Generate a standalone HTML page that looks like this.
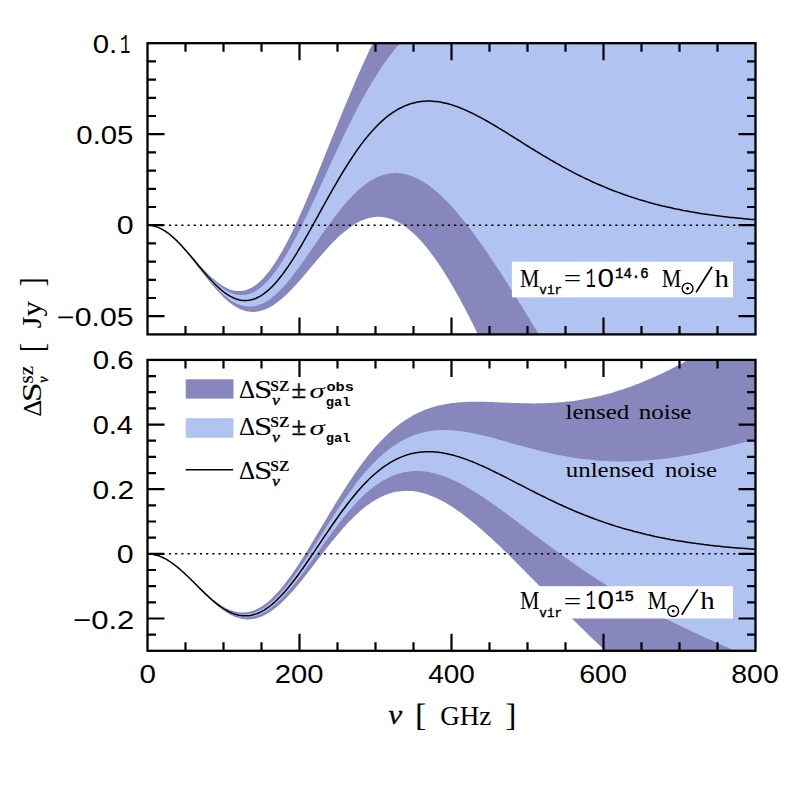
<!DOCTYPE html>
<html><head><meta charset="utf-8"><title>SZ flux</title>
<style>html,body{margin:0;padding:0;background:#fff}svg{display:block}text{fill:#000}</style></head>
<body>
<svg width="797" height="797" viewBox="0 0 797 797">
<defs>
<clipPath id="ct"><rect x="147.5" y="43.2" width="608.0" height="291.2"/></clipPath>
<clipPath id="cb"><rect x="147.5" y="359.9" width="608.0" height="290.9"/></clipPath>
</defs>
<rect width="797" height="797" fill="#fff"/>
<g clip-path="url(#ct)">
<path d="M147.9,225.2 L149.8,225.3 L151.7,225.5 L153.6,225.9 L155.5,226.4 L157.4,227.1 L159.3,227.8 L161.2,228.7 L163.1,229.7 L165.0,230.9 L166.9,232.1 L168.8,233.5 L170.7,235.0 L172.6,236.5 L174.5,238.2 L176.4,239.9 L178.3,241.7 L180.2,243.6 L182.1,245.6 L184.0,247.5 L185.9,249.6 L187.8,251.7 L189.7,253.8 L191.6,255.9 L193.5,258.0 L195.4,260.1 L197.2,262.3 L199.1,264.4 L201.0,266.5 L202.9,268.5 L204.8,270.5 L206.7,272.5 L208.6,274.4 L210.5,276.2 L212.4,278.0 L214.3,279.6 L216.2,281.2 L218.1,282.7 L220.0,284.1 L221.9,285.4 L223.8,286.6 L225.7,287.6 L227.6,288.5 L229.5,289.3 L231.4,289.9 L233.3,290.5 L235.2,290.8 L237.1,291.0 L239.0,291.1 L240.9,291.0 L242.8,290.8 L244.7,290.4 L246.6,289.8 L248.5,289.1 L250.4,288.2 L252.3,287.2 L254.2,286.0 L256.1,284.7 L258.0,283.2 L259.9,281.5 L261.8,279.7 L263.7,277.7 L265.6,275.6 L267.5,273.3 L269.4,270.9 L271.3,268.3 L273.2,265.6 L275.1,262.8 L277.0,259.8 L278.9,256.7 L280.8,253.5 L282.7,250.2 L284.6,246.7 L286.5,243.2 L288.4,239.5 L290.3,235.7 L292.2,231.9 L294.1,227.9 L296.0,223.9 L297.9,219.7 L299.8,215.6 L301.7,211.3 L303.6,207.0 L305.5,202.6 L307.4,198.1 L309.3,193.6 L311.2,189.1 L313.1,184.5 L315.0,179.9 L316.9,175.3 L318.8,170.6 L320.7,165.9 L322.6,161.2 L324.5,156.5 L326.4,151.8 L328.3,147.1 L330.2,142.3 L332.1,137.6 L334.0,132.9 L335.9,128.2 L337.8,123.5 L339.7,118.9 L341.6,114.2 L343.5,109.6 L345.4,105.0 L347.3,100.5 L349.2,96.0 L351.1,91.5 L353.0,87.0 L354.9,82.6 L356.7,78.3 L358.6,74.0 L360.5,69.7 L362.4,65.5 L364.3,61.3 L366.2,57.2 L368.1,53.1 L370.0,49.1 L371.9,45.2 L373.8,41.3 L375.7,37.4 L377.6,33.6 L379.5,29.9 L381.4,26.2 L383.3,22.6 L385.2,19.1 L387.1,15.6 L389.0,12.1 L390.9,8.7 L392.8,5.4 L394.7,2.1 L396.6,-1.1 L398.5,-4.3 L400.4,-7.4 L402.3,-10.5 L404.2,-13.5 L406.1,-16.4 L408.0,-19.3 L409.9,-22.2 L411.8,-25.0 L413.7,-27.8 L415.6,-30.5 L417.5,-33.1 L419.4,-35.8 L421.3,-38.3 L423.2,-40.9 L425.1,-43.4 L427.0,-45.8 L428.9,-48.3 L430.8,-50.7 L432.7,-53.0 L434.6,-55.3 L436.5,-57.6 L438.4,-59.9 L440.3,-62.1 L442.2,-64.3 L444.1,-66.4 L446.0,-68.6 L447.9,-70.7 L449.8,-72.8 L451.7,-74.9 L453.6,-77.0 L455.5,-79.0 L457.4,-81.0 L459.3,-83.0 L461.2,-85.0 L463.1,-87.0 L465.0,-89.0 L466.9,-91.0 L468.8,-92.9 L470.7,-94.9 L472.6,-96.8 L474.5,-98.8 L476.4,-100.7 L478.3,-102.6 L480.2,-104.6 L482.1,-106.5 L484.0,-108.4 L485.9,-110.4 L487.8,-112.3 L489.7,-114.3 L491.6,-116.2 L493.5,-118.2 L495.4,-120.2 L497.3,-122.1 L499.2,-124.1 L501.1,-126.1 L503.0,-128.2 L504.9,-130.2 L506.8,-132.2 L508.7,-134.3 L510.6,-136.3 L512.5,-138.4 L514.4,-140.5 L516.2,-142.6 L518.1,-144.8 L520.0,-146.9 L521.9,-149.1 L523.8,-151.3 L525.7,-153.5 L527.6,-155.8 L529.5,-158.0 L531.4,-160.3 L533.3,-162.6 L535.2,-164.9 L537.1,-167.3 L539.0,-169.6 L540.9,-172.0 L542.8,-174.5 L544.7,-176.9 L546.6,-179.4 L548.5,-181.9 L550.4,-184.4 L552.3,-187.0 L554.2,-189.5 L556.1,-192.1 L558.0,-194.8 L559.9,-197.4 L561.8,-200.1 L563.7,-202.8 L565.6,-205.6 L567.5,-208.3 L569.4,-211.1 L571.3,-214.0 L573.2,-216.8 L575.1,-219.7 L577.0,-222.6 L578.9,-225.6 L580.8,-228.5 L582.7,-231.5 L584.6,-234.5 L586.5,-237.6 L588.4,-240.7 L590.3,-243.8 L592.2,-246.9 L594.1,-250.1 L596.0,-253.3 L597.9,-256.5 L599.8,-259.8 L601.7,-263.1 L603.6,-266.4 L605.5,-269.7 L607.4,-273.1 L609.3,-276.5 L611.2,-279.9 L613.1,-283.4 L615.0,-286.9 L616.9,-290.4 L618.8,-293.9 L620.7,-297.5 L622.6,-301.1 L624.5,-304.7 L626.4,-308.3 L628.3,-312.0 L630.2,-315.7 L632.1,-319.4 L634.0,-323.2 L635.9,-327.0 L637.8,-330.8 L639.7,-334.6 L641.6,-338.5 L643.5,-342.3 L645.4,-346.2 L647.3,-350.2 L649.2,-354.1 L651.1,-358.1 L653.0,-362.1 L654.9,-366.2 L656.8,-370.2 L658.7,-374.3 L660.6,-378.4 L662.5,-382.6 L664.4,-386.7 L666.3,-390.9 L668.2,-395.1 L670.1,-399.3 L672.0,-403.6 L673.9,-407.8 L675.7,-412.1 L677.6,-416.5 L679.5,-420.8 L681.4,-425.2 L683.3,-429.5 L685.2,-433.9 L687.1,-438.4 L689.0,-442.8 L690.9,-447.3 L692.8,-451.8 L694.7,-456.3 L696.6,-460.8 L698.5,-465.4 L700.4,-470.0 L702.3,-474.5 L704.2,-479.2 L706.1,-483.8 L708.0,-488.4 L709.9,-493.1 L711.8,-497.8 L713.7,-502.5 L715.6,-507.3 L717.5,-512.0 L719.4,-516.8 L721.3,-521.6 L723.2,-526.4 L725.1,-531.2 L727.0,-536.0 L728.9,-540.9 L730.8,-545.8 L732.7,-550.7 L734.6,-555.6 L736.5,-560.5 L738.4,-565.4 L740.3,-570.4 L742.2,-575.4 L744.1,-580.4 L746.0,-585.4 L747.9,-590.4 L749.8,-595.5 L751.7,-600.5 L753.6,-605.6 L755.5,-610.7 L755.5,1050.0 L753.6,1044.6 L751.7,1039.2 L749.8,1033.9 L747.9,1028.5 L746.0,1023.1 L744.1,1017.8 L742.2,1012.4 L740.3,1007.1 L738.4,1001.7 L736.5,996.4 L734.6,991.1 L732.7,985.8 L730.8,980.5 L728.9,975.2 L727.0,969.9 L725.1,964.6 L723.2,959.4 L721.3,954.1 L719.4,948.8 L717.5,943.6 L715.6,938.3 L713.7,933.1 L711.8,927.9 L709.9,922.7 L708.0,917.4 L706.1,912.2 L704.2,907.0 L702.3,901.8 L700.4,896.7 L698.5,891.5 L696.6,886.3 L694.7,881.1 L692.8,876.0 L690.9,870.8 L689.0,865.7 L687.1,860.5 L685.2,855.4 L683.3,850.3 L681.4,845.2 L679.5,840.1 L677.6,834.9 L675.7,829.8 L673.9,824.7 L672.0,819.7 L670.1,814.6 L668.2,809.5 L666.3,804.4 L664.4,799.3 L662.5,794.3 L660.6,789.2 L658.7,784.2 L656.8,779.1 L654.9,774.1 L653.0,769.0 L651.1,764.0 L649.2,759.0 L647.3,754.0 L645.4,748.9 L643.5,743.9 L641.6,738.9 L639.7,733.9 L637.8,728.9 L635.9,723.9 L634.0,718.9 L632.1,713.9 L630.2,709.0 L628.3,704.0 L626.4,699.0 L624.5,694.0 L622.6,689.1 L620.7,684.1 L618.8,679.2 L616.9,674.2 L615.0,669.3 L613.1,664.3 L611.2,659.4 L609.3,654.5 L607.4,649.5 L605.5,644.6 L603.6,639.7 L601.7,634.8 L599.8,629.8 L597.9,624.9 L596.0,620.0 L594.1,615.1 L592.2,610.2 L590.3,605.3 L588.4,600.5 L586.5,595.6 L584.6,590.7 L582.7,585.8 L580.8,581.0 L578.9,576.1 L577.0,571.3 L575.1,566.4 L573.2,561.6 L571.3,556.7 L569.4,551.9 L567.5,547.1 L565.6,542.2 L563.7,537.4 L561.8,532.6 L559.9,527.8 L558.0,523.0 L556.1,518.2 L554.2,513.5 L552.3,508.7 L550.4,503.9 L548.5,499.2 L546.6,494.5 L544.7,489.7 L542.8,485.0 L540.9,480.3 L539.0,475.6 L537.1,470.9 L535.2,466.3 L533.3,461.6 L531.4,457.0 L529.5,452.3 L527.6,447.7 L525.7,443.1 L523.8,438.5 L521.9,433.9 L520.0,429.4 L518.1,424.9 L516.2,420.3 L514.4,415.8 L512.5,411.4 L510.6,406.9 L508.7,402.5 L506.8,398.1 L504.9,393.7 L503.0,389.3 L501.1,385.0 L499.2,380.7 L497.3,376.4 L495.4,372.1 L493.5,367.9 L491.6,363.7 L489.7,359.5 L487.8,355.4 L485.9,351.3 L484.0,347.2 L482.1,343.2 L480.2,339.2 L478.3,335.3 L476.4,331.3 L474.5,327.5 L472.6,323.6 L470.7,319.9 L468.8,316.1 L466.9,312.4 L465.0,308.8 L463.1,305.2 L461.2,301.6 L459.3,298.1 L457.4,294.7 L455.5,291.3 L453.6,288.0 L451.7,284.7 L449.8,281.5 L447.9,278.3 L446.0,275.2 L444.1,272.2 L442.2,269.2 L440.3,266.3 L438.4,263.5 L436.5,260.7 L434.6,258.0 L432.7,255.4 L430.8,252.9 L428.9,250.4 L427.0,248.0 L425.1,245.7 L423.2,243.5 L421.3,241.3 L419.4,239.3 L417.5,237.3 L415.6,235.4 L413.7,233.6 L411.8,231.9 L409.9,230.2 L408.0,228.7 L406.1,227.2 L404.2,225.8 L402.3,224.6 L400.4,223.4 L398.5,222.3 L396.6,221.3 L394.7,220.4 L392.8,219.6 L390.9,219.0 L389.0,218.4 L387.1,217.9 L385.2,217.4 L383.3,217.1 L381.4,216.9 L379.5,216.8 L377.6,216.8 L375.7,216.9 L373.8,217.1 L371.9,217.4 L370.0,217.7 L368.1,218.2 L366.2,218.8 L364.3,219.5 L362.4,220.2 L360.5,221.1 L358.6,222.0 L356.7,223.0 L354.9,224.1 L353.0,225.3 L351.1,226.6 L349.2,227.9 L347.3,229.4 L345.4,230.9 L343.5,232.5 L341.6,234.1 L339.7,235.8 L337.8,237.6 L335.9,239.4 L334.0,241.3 L332.1,243.3 L330.2,245.3 L328.3,247.3 L326.4,249.4 L324.5,251.5 L322.6,253.7 L320.7,255.9 L318.8,258.1 L316.9,260.3 L315.0,262.5 L313.1,264.8 L311.2,267.0 L309.3,269.3 L307.4,271.6 L305.5,273.8 L303.6,276.0 L301.7,278.2 L299.8,280.4 L297.9,282.5 L296.0,284.7 L294.1,286.7 L292.2,288.7 L290.3,290.7 L288.4,292.6 L286.5,294.5 L284.6,296.2 L282.7,297.9 L280.8,299.6 L278.9,301.1 L277.0,302.6 L275.1,303.9 L273.2,305.2 L271.3,306.4 L269.4,307.5 L267.5,308.4 L265.6,309.3 L263.7,310.0 L261.8,310.6 L259.9,311.1 L258.0,311.5 L256.1,311.8 L254.2,311.9 L252.3,311.9 L250.4,311.8 L248.5,311.6 L246.6,311.2 L244.7,310.7 L242.8,310.1 L240.9,309.4 L239.0,308.5 L237.1,307.5 L235.2,306.4 L233.3,305.2 L231.4,303.8 L229.5,302.4 L227.6,300.8 L225.7,299.2 L223.8,297.4 L221.9,295.6 L220.0,293.6 L218.1,291.6 L216.2,289.5 L214.3,287.3 L212.4,285.1 L210.5,282.8 L208.6,280.5 L206.7,278.1 L204.8,275.7 L202.9,273.3 L201.0,270.8 L199.1,268.4 L197.2,265.9 L195.4,263.4 L193.5,261.0 L191.6,258.5 L189.7,256.1 L187.8,253.8 L185.9,251.5 L184.0,249.2 L182.1,247.0 L180.2,244.9 L178.3,242.8 L176.4,240.9 L174.5,239.0 L172.6,237.2 L170.7,235.5 L168.8,234.0 L166.9,232.5 L165.0,231.2 L163.1,230.0 L161.2,228.9 L159.3,228.0 L157.4,227.1 L155.5,226.5 L153.6,225.9 L151.7,225.6 L149.8,225.3 L147.9,225.2Z" fill="#8887bd"/>
<path d="M147.9,225.0 L149.8,225.3 L151.7,225.5 L153.6,225.9 L155.5,226.4 L157.4,227.1 L159.3,227.8 L161.2,228.8 L163.1,229.8 L165.0,230.9 L166.9,232.2 L168.8,233.6 L170.7,235.1 L172.6,236.7 L174.5,238.4 L176.4,240.1 L178.3,242.0 L180.2,243.9 L182.1,245.9 L184.0,247.9 L185.9,250.0 L187.8,252.1 L189.7,254.3 L191.6,256.5 L193.5,258.7 L195.4,260.9 L197.2,263.1 L199.1,265.3 L201.0,267.4 L202.9,269.6 L204.8,271.7 L206.7,273.7 L208.6,275.7 L210.5,277.7 L212.4,279.6 L214.3,281.4 L216.2,283.1 L218.1,284.7 L220.0,286.2 L221.9,287.7 L223.8,289.0 L225.7,290.2 L227.6,291.3 L229.5,292.2 L231.4,293.0 L233.3,293.7 L235.2,294.3 L237.1,294.7 L239.0,295.0 L240.9,295.1 L242.8,295.1 L244.7,294.9 L246.6,294.6 L248.5,294.1 L250.4,293.5 L252.3,292.7 L254.2,291.7 L256.1,290.7 L258.0,289.4 L259.9,288.0 L261.8,286.5 L263.7,284.8 L265.6,283.0 L267.5,281.0 L269.4,278.9 L271.3,276.7 L273.2,274.3 L275.1,271.8 L277.0,269.2 L278.9,266.5 L280.8,263.6 L282.7,260.6 L284.6,257.6 L286.5,254.4 L288.4,251.1 L290.3,247.8 L292.2,244.3 L294.1,240.8 L296.0,237.2 L297.9,233.5 L299.8,229.7 L301.7,225.9 L303.6,222.1 L305.5,218.1 L307.4,214.2 L309.3,210.2 L311.2,206.1 L313.1,202.0 L315.0,197.9 L316.9,193.8 L318.8,189.7 L320.7,185.5 L322.6,181.4 L324.5,177.2 L326.4,173.1 L328.3,168.9 L330.2,164.8 L332.1,160.6 L334.0,156.5 L335.9,152.4 L337.8,148.4 L339.7,144.3 L341.6,140.3 L343.5,136.3 L345.4,132.4 L347.3,128.5 L349.2,124.7 L351.1,120.9 L353.0,117.1 L354.9,113.4 L356.7,109.7 L358.6,106.1 L360.5,102.6 L362.4,99.1 L364.3,95.7 L366.2,92.3 L368.1,89.0 L370.0,85.7 L371.9,82.6 L373.8,79.4 L375.7,76.4 L377.6,73.4 L379.5,70.5 L381.4,67.6 L383.3,64.8 L385.2,62.1 L387.1,59.5 L389.0,56.9 L390.9,54.3 L392.8,51.9 L394.7,49.5 L396.6,47.1 L398.5,44.9 L400.4,42.7 L402.3,40.5 L404.2,38.4 L406.1,36.4 L408.0,34.5 L409.9,32.6 L411.8,30.7 L413.7,28.9 L415.6,27.2 L417.5,25.5 L419.4,23.9 L421.3,22.3 L423.2,20.8 L425.1,19.4 L427.0,17.9 L428.9,16.6 L430.8,15.2 L432.7,13.9 L434.6,12.7 L436.5,11.5 L438.4,10.3 L440.3,9.2 L442.2,8.1 L444.1,7.1 L446.0,6.1 L447.9,5.1 L449.8,4.1 L451.7,3.2 L453.6,2.3 L455.5,1.5 L457.4,0.6 L459.3,-0.2 L461.2,-1.0 L463.1,-1.8 L465.0,-2.5 L466.9,-3.3 L468.8,-4.0 L470.7,-4.7 L472.6,-5.4 L474.5,-6.1 L476.4,-6.7 L478.3,-7.4 L480.2,-8.0 L482.1,-8.6 L484.0,-9.3 L485.9,-9.9 L487.8,-10.5 L489.7,-11.1 L491.6,-11.7 L493.5,-12.3 L495.4,-12.9 L497.3,-13.5 L499.2,-14.1 L501.1,-14.8 L503.0,-15.4 L504.9,-16.0 L506.8,-16.6 L508.7,-17.2 L510.6,-17.9 L512.5,-18.5 L514.4,-19.1 L516.2,-19.8 L518.1,-20.5 L520.0,-21.1 L521.9,-21.8 L523.8,-22.5 L525.7,-23.2 L527.6,-23.9 L529.5,-24.7 L531.4,-25.4 L533.3,-26.2 L535.2,-26.9 L537.1,-27.7 L539.0,-28.5 L540.9,-29.3 L542.8,-30.2 L544.7,-31.0 L546.6,-31.9 L548.5,-32.8 L550.4,-33.7 L552.3,-34.6 L554.2,-35.5 L556.1,-36.5 L558.0,-37.5 L559.9,-38.5 L561.8,-39.5 L563.7,-40.5 L565.6,-41.5 L567.5,-42.6 L569.4,-43.7 L571.3,-44.8 L573.2,-45.9 L575.1,-47.1 L577.0,-48.3 L578.9,-49.4 L580.8,-50.7 L582.7,-51.9 L584.6,-53.1 L586.5,-54.4 L588.4,-55.7 L590.3,-57.0 L592.2,-58.3 L594.1,-59.7 L596.0,-61.1 L597.9,-62.4 L599.8,-63.9 L601.7,-65.3 L603.6,-66.7 L605.5,-68.2 L607.4,-69.7 L609.3,-71.2 L611.2,-72.7 L613.1,-74.3 L615.0,-75.9 L616.9,-77.5 L618.8,-79.1 L620.7,-80.7 L622.6,-82.3 L624.5,-84.0 L626.4,-85.7 L628.3,-87.4 L630.2,-89.1 L632.1,-90.9 L634.0,-92.6 L635.9,-94.4 L637.8,-96.2 L639.7,-98.0 L641.6,-99.9 L643.5,-101.7 L645.4,-103.6 L647.3,-105.5 L649.2,-107.4 L651.1,-109.3 L653.0,-111.2 L654.9,-113.2 L656.8,-115.1 L658.7,-117.1 L660.6,-119.1 L662.5,-121.2 L664.4,-123.2 L666.3,-125.3 L668.2,-127.3 L670.1,-129.4 L672.0,-131.5 L673.9,-133.6 L675.7,-135.7 L677.6,-137.9 L679.5,-140.0 L681.4,-142.2 L683.3,-144.4 L685.2,-146.6 L687.1,-148.8 L689.0,-151.1 L690.9,-153.3 L692.8,-155.6 L694.7,-157.8 L696.6,-160.1 L698.5,-162.4 L700.4,-164.7 L702.3,-167.0 L704.2,-169.4 L706.1,-171.7 L708.0,-174.1 L709.9,-176.5 L711.8,-178.8 L713.7,-181.2 L715.6,-183.6 L717.5,-186.1 L719.4,-188.5 L721.3,-190.9 L723.2,-193.4 L725.1,-195.8 L727.0,-198.3 L728.9,-200.8 L730.8,-203.3 L732.7,-205.8 L734.6,-208.3 L736.5,-210.8 L738.4,-213.4 L740.3,-215.9 L742.2,-218.5 L744.1,-221.0 L746.0,-223.6 L747.9,-226.2 L749.8,-228.8 L751.7,-231.4 L753.6,-234.0 L755.5,-236.6 L755.5,676.0 L753.6,673.0 L751.7,670.1 L749.8,667.2 L747.9,664.3 L746.0,661.4 L744.1,658.4 L742.2,655.5 L740.3,652.6 L738.4,649.7 L736.5,646.8 L734.6,643.9 L732.7,640.9 L730.8,638.0 L728.9,635.1 L727.0,632.2 L725.1,629.3 L723.2,626.4 L721.3,623.5 L719.4,620.6 L717.5,617.6 L715.6,614.7 L713.7,611.8 L711.8,608.9 L709.9,606.0 L708.0,603.1 L706.1,600.2 L704.2,597.3 L702.3,594.3 L700.4,591.4 L698.5,588.5 L696.6,585.6 L694.7,582.7 L692.8,579.8 L690.9,576.8 L689.0,573.9 L687.1,571.0 L685.2,568.1 L683.3,565.2 L681.4,562.2 L679.5,559.3 L677.6,556.4 L675.7,553.5 L673.9,550.5 L672.0,547.6 L670.1,544.7 L668.2,541.7 L666.3,538.8 L664.4,535.8 L662.5,532.9 L660.6,529.9 L658.7,527.0 L656.8,524.0 L654.9,521.1 L653.0,518.1 L651.1,515.2 L649.2,512.2 L647.3,509.2 L645.4,506.3 L643.5,503.3 L641.6,500.3 L639.7,497.3 L637.8,494.4 L635.9,491.4 L634.0,488.4 L632.1,485.4 L630.2,482.4 L628.3,479.4 L626.4,476.4 L624.5,473.4 L622.6,470.4 L620.7,467.4 L618.8,464.3 L616.9,461.3 L615.0,458.3 L613.1,455.2 L611.2,452.2 L609.3,449.2 L607.4,446.1 L605.5,443.1 L603.6,440.0 L601.7,437.0 L599.8,433.9 L597.9,430.8 L596.0,427.8 L594.1,424.7 L592.2,421.6 L590.3,418.6 L588.4,415.5 L586.5,412.4 L584.6,409.3 L582.7,406.2 L580.8,403.1 L578.9,400.0 L577.0,396.9 L575.1,393.8 L573.2,390.7 L571.3,387.6 L569.4,384.5 L567.5,381.3 L565.6,378.2 L563.7,375.1 L561.8,372.0 L559.9,368.9 L558.0,365.7 L556.1,362.6 L554.2,359.5 L552.3,356.3 L550.4,353.2 L548.5,350.1 L546.6,347.0 L544.7,343.8 L542.8,340.7 L540.9,337.6 L539.0,334.5 L537.1,331.4 L535.2,328.3 L533.3,325.2 L531.4,322.1 L529.5,319.0 L527.6,315.9 L525.7,312.8 L523.8,309.7 L521.9,306.6 L520.0,303.6 L518.1,300.5 L516.2,297.5 L514.4,294.5 L512.5,291.4 L510.6,288.4 L508.7,285.4 L506.8,282.4 L504.9,279.5 L503.0,276.5 L501.1,273.6 L499.2,270.7 L497.3,267.8 L495.4,264.9 L493.5,262.0 L491.6,259.2 L489.7,256.4 L487.8,253.6 L485.9,250.8 L484.0,248.1 L482.1,245.3 L480.2,242.7 L478.3,240.0 L476.4,237.4 L474.5,234.8 L472.6,232.2 L470.7,229.7 L468.8,227.2 L466.9,224.7 L465.0,222.3 L463.1,219.9 L461.2,217.6 L459.3,215.3 L457.4,213.0 L455.5,210.8 L453.6,208.7 L451.7,206.6 L449.8,204.5 L447.9,202.5 L446.0,200.6 L444.1,198.7 L442.2,196.8 L440.3,195.0 L438.4,193.3 L436.5,191.6 L434.6,190.0 L432.7,188.5 L430.8,187.0 L428.9,185.6 L427.0,184.3 L425.1,183.0 L423.2,181.8 L421.3,180.6 L419.4,179.6 L417.5,178.6 L415.6,177.7 L413.7,176.9 L411.8,176.1 L409.9,175.4 L408.0,174.9 L406.1,174.3 L404.2,173.9 L402.3,173.6 L400.4,173.3 L398.5,173.2 L396.6,173.1 L394.7,173.1 L392.8,173.2 L390.9,173.3 L389.0,173.6 L387.1,174.0 L385.2,174.4 L383.3,174.9 L381.4,175.5 L379.5,176.3 L377.6,177.1 L375.7,177.9 L373.8,178.9 L371.9,180.0 L370.0,181.1 L368.1,182.4 L366.2,183.7 L364.3,185.1 L362.4,186.6 L360.5,188.2 L358.6,189.8 L356.7,191.6 L354.9,193.4 L353.0,195.3 L351.1,197.2 L349.2,199.2 L347.3,201.3 L345.4,203.5 L343.5,205.7 L341.6,208.0 L339.7,210.4 L337.8,212.8 L335.9,215.2 L334.0,217.7 L332.1,220.3 L330.2,222.9 L328.3,225.5 L326.4,228.1 L324.5,230.8 L322.6,233.5 L320.7,236.3 L318.8,239.0 L316.9,241.8 L315.0,244.5 L313.1,247.3 L311.2,250.0 L309.3,252.8 L307.4,255.5 L305.5,258.2 L303.6,260.9 L301.7,263.6 L299.8,266.2 L297.9,268.8 L296.0,271.3 L294.1,273.8 L292.2,276.3 L290.3,278.7 L288.4,281.0 L286.5,283.2 L284.6,285.4 L282.7,287.5 L280.8,289.5 L278.9,291.4 L277.0,293.2 L275.1,294.9 L273.2,296.5 L271.3,298.0 L269.4,299.4 L267.5,300.7 L265.6,301.8 L263.7,302.9 L261.8,303.8 L259.9,304.6 L258.0,305.3 L256.1,305.8 L254.2,306.2 L252.3,306.5 L250.4,306.6 L248.5,306.6 L246.6,306.5 L244.7,306.2 L242.8,305.8 L240.9,305.3 L239.0,304.6 L237.1,303.8 L235.2,302.9 L233.3,301.9 L231.4,300.7 L229.5,299.5 L227.6,298.1 L225.7,296.6 L223.8,295.0 L221.9,293.3 L220.0,291.5 L218.1,289.6 L216.2,287.7 L214.3,285.6 L212.4,283.5 L210.5,281.3 L208.6,279.1 L206.7,276.9 L204.8,274.5 L202.9,272.2 L201.0,269.8 L199.1,267.5 L197.2,265.1 L195.4,262.7 L193.5,260.3 L191.6,257.9 L189.7,255.6 L187.8,253.3 L185.9,251.0 L184.0,248.8 L182.1,246.7 L180.2,244.6 L178.3,242.6 L176.4,240.7 L174.5,238.8 L172.6,237.1 L170.7,235.4 L168.8,233.9 L166.9,232.4 L165.0,231.1 L163.1,229.9 L161.2,228.9 L159.3,227.9 L157.4,227.1 L155.5,226.5 L153.6,225.9 L151.7,225.6 L149.8,225.3 L147.9,225.4Z" fill="#b0c3f1"/>
<path d="M168.9,225.20 H755.5" stroke="#000" stroke-width="1.5" stroke-dasharray="2.2 4.0" fill="none"/>
<path d="M147.9,225.2 L149.8,225.3 L151.7,225.5 L153.6,225.9 L155.5,226.4 L157.4,227.1 L159.3,227.9 L161.2,228.8 L163.1,229.9 L165.0,231.0 L166.9,232.3 L168.8,233.7 L170.7,235.3 L172.6,236.9 L174.5,238.6 L176.4,240.4 L178.3,242.3 L180.2,244.2 L182.1,246.3 L184.0,248.4 L185.9,250.5 L187.8,252.7 L189.7,255.0 L191.6,257.2 L193.5,259.5 L195.4,261.8 L197.2,264.1 L199.1,266.4 L201.0,268.6 L202.9,270.9 L204.8,273.1 L206.7,275.3 L208.6,277.4 L210.5,279.5 L212.4,281.5 L214.3,283.5 L216.2,285.4 L218.1,287.2 L220.0,288.9 L221.9,290.5 L223.8,292.0 L225.7,293.4 L227.6,294.7 L229.5,295.8 L231.4,296.9 L233.3,297.8 L235.2,298.6 L237.1,299.3 L239.0,299.8 L240.9,300.2 L242.8,300.4 L244.7,300.6 L246.6,300.5 L248.5,300.3 L250.4,300.0 L252.3,299.6 L254.2,299.0 L256.1,298.2 L258.0,297.3 L259.9,296.3 L261.8,295.2 L263.7,293.9 L265.6,292.4 L267.5,290.9 L269.4,289.2 L271.3,287.4 L273.2,285.4 L275.1,283.4 L277.0,281.2 L278.9,278.9 L280.8,276.5 L282.7,274.1 L284.6,271.5 L286.5,268.8 L288.4,266.1 L290.3,263.2 L292.2,260.3 L294.1,257.3 L296.0,254.3 L297.9,251.1 L299.8,248.0 L301.7,244.8 L303.6,241.5 L305.5,238.2 L307.4,234.8 L309.3,231.5 L311.2,228.1 L313.1,224.7 L315.0,221.2 L316.9,217.8 L318.8,214.3 L320.7,210.9 L322.6,207.4 L324.5,204.0 L326.4,200.6 L328.3,197.2 L330.2,193.8 L332.1,190.4 L334.0,187.1 L335.9,183.8 L337.8,180.6 L339.7,177.3 L341.6,174.2 L343.5,171.0 L345.4,168.0 L347.3,164.9 L349.2,162.0 L351.1,159.0 L353.0,156.2 L354.9,153.4 L356.7,150.6 L358.6,148.0 L360.5,145.4 L362.4,142.9 L364.3,140.4 L366.2,138.0 L368.1,135.7 L370.0,133.4 L371.9,131.3 L373.8,129.2 L375.7,127.2 L377.6,125.2 L379.5,123.4 L381.4,121.6 L383.3,119.9 L385.2,118.3 L387.1,116.7 L389.0,115.2 L390.9,113.8 L392.8,112.5 L394.7,111.3 L396.6,110.1 L398.5,109.0 L400.4,108.0 L402.3,107.1 L404.2,106.2 L406.1,105.4 L408.0,104.7 L409.9,104.0 L411.8,103.4 L413.7,102.9 L415.6,102.5 L417.5,102.1 L419.4,101.8 L421.3,101.5 L423.2,101.3 L425.1,101.2 L427.0,101.1 L428.9,101.1 L430.8,101.1 L432.7,101.2 L434.6,101.4 L436.5,101.6 L438.4,101.8 L440.3,102.1 L442.2,102.5 L444.1,102.9 L446.0,103.3 L447.9,103.8 L449.8,104.3 L451.7,104.9 L453.6,105.5 L455.5,106.1 L457.4,106.8 L459.3,107.5 L461.2,108.3 L463.1,109.1 L465.0,109.9 L466.9,110.7 L468.8,111.6 L470.7,112.5 L472.6,113.4 L474.5,114.4 L476.4,115.3 L478.3,116.3 L480.2,117.3 L482.1,118.3 L484.0,119.4 L485.9,120.5 L487.8,121.5 L489.7,122.6 L491.6,123.7 L493.5,124.8 L495.4,126.0 L497.3,127.1 L499.2,128.3 L501.1,129.4 L503.0,130.6 L504.9,131.7 L506.8,132.9 L508.7,134.1 L510.6,135.3 L512.5,136.5 L514.4,137.7 L516.2,138.8 L518.1,140.0 L520.0,141.2 L521.9,142.4 L523.8,143.6 L525.7,144.8 L527.6,146.0 L529.5,147.2 L531.4,148.3 L533.3,149.5 L535.2,150.7 L537.1,151.8 L539.0,153.0 L540.9,154.1 L542.8,155.3 L544.7,156.4 L546.6,157.5 L548.5,158.7 L550.4,159.8 L552.3,160.9 L554.2,162.0 L556.1,163.1 L558.0,164.1 L559.9,165.2 L561.8,166.3 L563.7,167.3 L565.6,168.3 L567.5,169.4 L569.4,170.4 L571.3,171.4 L573.2,172.4 L575.1,173.3 L577.0,174.3 L578.9,175.3 L580.8,176.2 L582.7,177.2 L584.6,178.1 L586.5,179.0 L588.4,179.9 L590.3,180.8 L592.2,181.7 L594.1,182.5 L596.0,183.4 L597.9,184.2 L599.8,185.0 L601.7,185.8 L603.6,186.6 L605.5,187.4 L607.4,188.2 L609.3,189.0 L611.2,189.7 L613.1,190.5 L615.0,191.2 L616.9,191.9 L618.8,192.6 L620.7,193.3 L622.6,194.0 L624.5,194.7 L626.4,195.3 L628.3,196.0 L630.2,196.6 L632.1,197.3 L634.0,197.9 L635.9,198.5 L637.8,199.1 L639.7,199.7 L641.6,200.2 L643.5,200.8 L645.4,201.3 L647.3,201.9 L649.2,202.4 L651.1,202.9 L653.0,203.5 L654.9,204.0 L656.8,204.4 L658.7,204.9 L660.6,205.4 L662.5,205.9 L664.4,206.3 L666.3,206.8 L668.2,207.2 L670.1,207.6 L672.0,208.0 L673.9,208.5 L675.7,208.9 L677.6,209.2 L679.5,209.6 L681.4,210.0 L683.3,210.4 L685.2,210.7 L687.1,211.1 L689.0,211.4 L690.9,211.8 L692.8,212.1 L694.7,212.4 L696.6,212.7 L698.5,213.1 L700.4,213.4 L702.3,213.7 L704.2,213.9 L706.1,214.2 L708.0,214.5 L709.9,214.8 L711.8,215.0 L713.7,215.3 L715.6,215.5 L717.5,215.8 L719.4,216.0 L721.3,216.3 L723.2,216.5 L725.1,216.7 L727.0,216.9 L728.9,217.2 L730.8,217.4 L732.7,217.6 L734.6,217.8 L736.5,218.0 L738.4,218.2 L740.3,218.3 L742.2,218.5 L744.1,218.7 L746.0,218.9 L747.9,219.0 L749.8,219.2 L751.7,219.4 L753.6,219.5 L755.5,219.7" stroke="#000" stroke-width="1.5" fill="none"/>
</g>
<g clip-path="url(#cb)">
<path d="M147.9,553.8 L149.8,553.9 L151.7,554.1 L153.6,554.4 L155.5,554.8 L157.4,555.4 L159.3,556.0 L161.2,556.8 L163.1,557.6 L165.0,558.6 L166.9,559.6 L168.8,560.8 L170.7,562.0 L172.6,563.3 L174.5,564.7 L176.4,566.2 L178.3,567.7 L180.2,569.3 L182.1,570.9 L184.0,572.6 L185.9,574.3 L187.8,576.1 L189.7,577.9 L191.6,579.7 L193.5,581.5 L195.4,583.3 L197.2,585.2 L199.1,587.0 L201.0,588.8 L202.9,590.6 L204.8,592.3 L206.7,594.1 L208.6,595.7 L210.5,597.4 L212.4,598.9 L214.3,600.5 L216.2,601.9 L218.1,603.3 L220.0,604.6 L221.9,605.8 L223.8,606.9 L225.7,608.0 L227.6,608.9 L229.5,609.7 L231.4,610.5 L233.3,611.1 L235.2,611.6 L237.1,612.0 L239.0,612.3 L240.9,612.5 L242.8,612.5 L244.7,612.5 L246.6,612.3 L248.5,612.0 L250.4,611.5 L252.3,611.0 L254.2,610.3 L256.1,609.5 L258.0,608.6 L259.9,607.5 L261.8,606.4 L263.7,605.1 L265.6,603.7 L267.5,602.2 L269.4,600.6 L271.3,598.9 L273.2,597.0 L275.1,595.1 L277.0,593.1 L278.9,591.0 L280.8,588.7 L282.7,586.4 L284.6,584.1 L286.5,581.6 L288.4,579.1 L290.3,576.4 L292.2,573.8 L294.1,571.0 L296.0,568.2 L297.9,565.4 L299.8,562.4 L301.7,559.5 L303.6,556.5 L305.5,553.4 L307.4,550.4 L309.3,547.3 L311.2,544.1 L313.1,541.0 L315.0,537.8 L316.9,534.6 L318.8,531.5 L320.7,528.3 L322.6,525.1 L324.5,521.9 L326.4,518.7 L328.3,515.5 L330.2,512.3 L332.1,509.2 L334.0,506.0 L335.9,502.9 L337.8,499.8 L339.7,496.8 L341.6,493.7 L343.5,490.7 L345.4,487.8 L347.3,484.8 L349.2,481.9 L351.1,479.1 L353.0,476.3 L354.9,473.5 L356.7,470.8 L358.6,468.2 L360.5,465.5 L362.4,463.0 L364.3,460.5 L366.2,458.0 L368.1,455.6 L370.0,453.3 L371.9,451.0 L373.8,448.8 L375.7,446.6 L377.6,444.5 L379.5,442.4 L381.4,440.4 L383.3,438.5 L385.2,436.6 L387.1,434.7 L389.0,433.0 L390.9,431.3 L392.8,429.6 L394.7,428.0 L396.6,426.5 L398.5,425.0 L400.4,423.6 L402.3,422.2 L404.2,420.9 L406.1,419.6 L408.0,418.4 L409.9,417.3 L411.8,416.2 L413.7,415.1 L415.6,414.1 L417.5,413.2 L419.4,412.3 L421.3,411.4 L423.2,410.6 L425.1,409.8 L427.0,409.1 L428.9,408.4 L430.8,407.8 L432.7,407.2 L434.6,406.6 L436.5,406.1 L438.4,405.6 L440.3,405.2 L442.2,404.8 L444.1,404.4 L446.0,404.0 L447.9,403.7 L449.8,403.4 L451.7,403.1 L453.6,402.9 L455.5,402.7 L457.4,402.5 L459.3,402.3 L461.2,402.2 L463.1,402.1 L465.0,402.0 L466.9,401.9 L468.8,401.8 L470.7,401.8 L472.6,401.7 L474.5,401.7 L476.4,401.7 L478.3,401.7 L480.2,401.7 L482.1,401.8 L484.0,401.8 L485.9,401.8 L487.8,401.9 L489.7,402.0 L491.6,402.0 L493.5,402.1 L495.4,402.2 L497.3,402.2 L499.2,402.3 L501.1,402.4 L503.0,402.5 L504.9,402.6 L506.8,402.7 L508.7,402.7 L510.6,402.8 L512.5,402.9 L514.4,403.0 L516.2,403.0 L518.1,403.1 L520.0,403.1 L521.9,403.2 L523.8,403.2 L525.7,403.3 L527.6,403.3 L529.5,403.3 L531.4,403.4 L533.3,403.4 L535.2,403.4 L537.1,403.3 L539.0,403.3 L540.9,403.3 L542.8,403.2 L544.7,403.2 L546.6,403.1 L548.5,403.1 L550.4,403.0 L552.3,402.9 L554.2,402.8 L556.1,402.6 L558.0,402.5 L559.9,402.3 L561.8,402.2 L563.7,402.0 L565.6,401.8 L567.5,401.6 L569.4,401.4 L571.3,401.2 L573.2,400.9 L575.1,400.7 L577.0,400.4 L578.9,400.1 L580.8,399.8 L582.7,399.5 L584.6,399.1 L586.5,398.8 L588.4,398.4 L590.3,398.1 L592.2,397.7 L594.1,397.3 L596.0,396.8 L597.9,396.4 L599.8,395.9 L601.7,395.5 L603.6,395.0 L605.5,394.5 L607.4,394.0 L609.3,393.5 L611.2,392.9 L613.1,392.4 L615.0,391.8 L616.9,391.2 L618.8,390.6 L620.7,390.0 L622.6,389.4 L624.5,388.8 L626.4,388.1 L628.3,387.4 L630.2,386.8 L632.1,386.1 L634.0,385.4 L635.9,384.6 L637.8,383.9 L639.7,383.2 L641.6,382.4 L643.5,381.6 L645.4,380.8 L647.3,380.0 L649.2,379.2 L651.1,378.4 L653.0,377.5 L654.9,376.7 L656.8,375.8 L658.7,374.9 L660.6,374.1 L662.5,373.2 L664.4,372.2 L666.3,371.3 L668.2,370.4 L670.1,369.4 L672.0,368.5 L673.9,367.5 L675.7,366.5 L677.6,365.5 L679.5,364.5 L681.4,363.5 L683.3,362.4 L685.2,361.4 L687.1,360.4 L689.0,359.3 L690.9,358.2 L692.8,357.1 L694.7,356.0 L696.6,354.9 L698.5,353.8 L700.4,352.7 L702.3,351.6 L704.2,350.4 L706.1,349.3 L708.0,348.1 L709.9,346.9 L711.8,345.8 L713.7,344.6 L715.6,343.4 L717.5,342.2 L719.4,341.0 L721.3,339.7 L723.2,338.5 L725.1,337.2 L727.0,336.0 L728.9,334.7 L730.8,333.5 L732.7,332.2 L734.6,330.9 L736.5,329.6 L738.4,328.3 L740.3,327.0 L742.2,325.7 L744.1,324.4 L746.0,323.0 L747.9,321.7 L749.8,320.3 L751.7,319.0 L753.6,317.6 L755.5,316.3 L755.5,782.3 L753.6,780.7 L751.7,779.1 L749.8,777.5 L747.9,775.8 L746.0,774.2 L744.1,772.6 L742.2,771.0 L740.3,769.4 L738.4,767.8 L736.5,766.1 L734.6,764.5 L732.7,762.9 L730.8,761.3 L728.9,759.7 L727.0,758.1 L725.1,756.5 L723.2,754.9 L721.3,753.2 L719.4,751.6 L717.5,750.0 L715.6,748.4 L713.7,746.8 L711.8,745.2 L709.9,743.6 L708.0,741.9 L706.1,740.3 L704.2,738.7 L702.3,737.1 L700.4,735.5 L698.5,733.8 L696.6,732.2 L694.7,730.6 L692.8,729.0 L690.9,727.3 L689.0,725.7 L687.1,724.1 L685.2,722.5 L683.3,720.8 L681.4,719.2 L679.5,717.5 L677.6,715.9 L675.7,714.3 L673.9,712.6 L672.0,711.0 L670.1,709.3 L668.2,707.7 L666.3,706.0 L664.4,704.3 L662.5,702.7 L660.6,701.0 L658.7,699.4 L656.8,697.7 L654.9,696.0 L653.0,694.3 L651.1,692.6 L649.2,691.0 L647.3,689.3 L645.4,687.6 L643.5,685.9 L641.6,684.2 L639.7,682.5 L637.8,680.8 L635.9,679.1 L634.0,677.3 L632.1,675.6 L630.2,673.9 L628.3,672.2 L626.4,670.4 L624.5,668.7 L622.6,666.9 L620.7,665.2 L618.8,663.4 L616.9,661.7 L615.0,659.9 L613.1,658.1 L611.2,656.4 L609.3,654.6 L607.4,652.8 L605.5,651.0 L603.6,649.2 L601.7,647.4 L599.8,645.6 L597.9,643.8 L596.0,642.0 L594.1,640.2 L592.2,638.3 L590.3,636.5 L588.4,634.7 L586.5,632.8 L584.6,631.0 L582.7,629.1 L580.8,627.3 L578.9,625.4 L577.0,623.6 L575.1,621.7 L573.2,619.8 L571.3,617.9 L569.4,616.0 L567.5,614.2 L565.6,612.3 L563.7,610.4 L561.8,608.5 L559.9,606.6 L558.0,604.7 L556.1,602.8 L554.2,600.8 L552.3,598.9 L550.4,597.0 L548.5,595.1 L546.6,593.2 L544.7,591.3 L542.8,589.3 L540.9,587.4 L539.0,585.5 L537.1,583.6 L535.2,581.6 L533.3,579.7 L531.4,577.8 L529.5,575.9 L527.6,574.0 L525.7,572.1 L523.8,570.1 L521.9,568.2 L520.0,566.3 L518.1,564.4 L516.2,562.5 L514.4,560.6 L512.5,558.8 L510.6,556.9 L508.7,555.0 L506.8,553.1 L504.9,551.3 L503.0,549.5 L501.1,547.6 L499.2,545.8 L497.3,544.0 L495.4,542.2 L493.5,540.4 L491.6,538.6 L489.7,536.9 L487.8,535.2 L485.9,533.4 L484.0,531.7 L482.1,530.1 L480.2,528.4 L478.3,526.7 L476.4,525.1 L474.5,523.5 L472.6,522.0 L470.7,520.4 L468.8,518.9 L466.9,517.4 L465.0,515.9 L463.1,514.5 L461.2,513.1 L459.3,511.7 L457.4,510.4 L455.5,509.0 L453.6,507.8 L451.7,506.5 L449.8,505.3 L447.9,504.2 L446.0,503.0 L444.1,502.0 L442.2,500.9 L440.3,499.9 L438.4,499.0 L436.5,498.1 L434.6,497.2 L432.7,496.4 L430.8,495.7 L428.9,495.0 L427.0,494.3 L425.1,493.7 L423.2,493.1 L421.3,492.7 L419.4,492.2 L417.5,491.8 L415.6,491.5 L413.7,491.3 L411.8,491.1 L409.9,490.9 L408.0,490.9 L406.1,490.8 L404.2,490.9 L402.3,491.0 L400.4,491.2 L398.5,491.4 L396.6,491.8 L394.7,492.1 L392.8,492.6 L390.9,493.1 L389.0,493.7 L387.1,494.4 L385.2,495.1 L383.3,495.9 L381.4,496.7 L379.5,497.7 L377.6,498.7 L375.7,499.8 L373.8,500.9 L371.9,502.1 L370.0,503.4 L368.1,504.7 L366.2,506.1 L364.3,507.6 L362.4,509.2 L360.5,510.8 L358.6,512.4 L356.7,514.2 L354.9,515.9 L353.0,517.8 L351.1,519.7 L349.2,521.6 L347.3,523.6 L345.4,525.7 L343.5,527.8 L341.6,530.0 L339.7,532.2 L337.8,534.4 L335.9,536.7 L334.0,539.0 L332.1,541.3 L330.2,543.7 L328.3,546.1 L326.4,548.5 L324.5,550.9 L322.6,553.4 L320.7,555.9 L318.8,558.3 L316.9,560.8 L315.0,563.3 L313.1,565.8 L311.2,568.3 L309.3,570.7 L307.4,573.2 L305.5,575.6 L303.6,578.0 L301.7,580.4 L299.8,582.7 L297.9,585.0 L296.0,587.3 L294.1,589.5 L292.2,591.7 L290.3,593.8 L288.4,595.8 L286.5,597.8 L284.6,599.8 L282.7,601.6 L280.8,603.4 L278.9,605.1 L277.0,606.7 L275.1,608.3 L273.2,609.7 L271.3,611.1 L269.4,612.4 L267.5,613.5 L265.6,614.6 L263.7,615.6 L261.8,616.4 L259.9,617.2 L258.0,617.8 L256.1,618.4 L254.2,618.8 L252.3,619.1 L250.4,619.3 L248.5,619.4 L246.6,619.4 L244.7,619.2 L242.8,619.0 L240.9,618.6 L239.0,618.1 L237.1,617.5 L235.2,616.9 L233.3,616.1 L231.4,615.2 L229.5,614.2 L227.6,613.1 L225.7,611.9 L223.8,610.6 L221.9,609.3 L220.0,607.9 L218.1,606.4 L216.2,604.8 L214.3,603.1 L212.4,601.4 L210.5,599.7 L208.6,597.9 L206.7,596.0 L204.8,594.2 L202.9,592.3 L201.0,590.3 L199.1,588.4 L197.2,586.5 L195.4,584.5 L193.5,582.6 L191.6,580.6 L189.7,578.7 L187.8,576.9 L185.9,575.0 L184.0,573.2 L182.1,571.4 L180.2,569.7 L178.3,568.1 L176.4,566.5 L174.5,565.0 L172.6,563.6 L170.7,562.2 L168.8,560.9 L166.9,559.8 L165.0,558.7 L163.1,557.7 L161.2,556.8 L159.3,556.1 L157.4,555.4 L155.5,554.9 L153.6,554.4 L151.7,554.1 L149.8,553.9 L147.9,553.8Z" fill="#8887bd"/>
<path d="M147.9,553.8 L149.8,553.9 L151.7,554.1 L153.6,554.4 L155.5,554.9 L157.4,555.4 L159.3,556.0 L161.2,556.8 L163.1,557.7 L165.0,558.6 L166.9,559.7 L168.8,560.8 L170.7,562.1 L172.6,563.4 L174.5,564.8 L176.4,566.3 L178.3,567.8 L180.2,569.4 L182.1,571.1 L184.0,572.8 L185.9,574.5 L187.8,576.3 L189.7,578.2 L191.6,580.0 L193.5,581.9 L195.4,583.7 L197.2,585.6 L199.1,587.4 L201.0,589.3 L202.9,591.1 L204.8,592.9 L206.7,594.7 L208.6,596.4 L210.5,598.1 L212.4,599.7 L214.3,601.3 L216.2,602.8 L218.1,604.2 L220.0,605.6 L221.9,606.9 L223.8,608.1 L225.7,609.2 L227.6,610.2 L229.5,611.1 L231.4,611.9 L233.3,612.6 L235.2,613.2 L237.1,613.7 L239.0,614.0 L240.9,614.3 L242.8,614.4 L244.7,614.5 L246.6,614.4 L248.5,614.2 L250.4,613.8 L252.3,613.4 L254.2,612.8 L256.1,612.1 L258.0,611.3 L259.9,610.3 L261.8,609.3 L263.7,608.1 L265.6,606.9 L267.5,605.5 L269.4,604.0 L271.3,602.4 L273.2,600.7 L275.1,598.9 L277.0,597.0 L278.9,595.0 L280.8,593.0 L282.7,590.8 L284.6,588.6 L286.5,586.2 L288.4,583.8 L290.3,581.4 L292.2,578.9 L294.1,576.3 L296.0,573.6 L297.9,570.9 L299.8,568.2 L301.7,565.4 L303.6,562.5 L305.5,559.7 L307.4,556.8 L309.3,553.8 L311.2,550.9 L313.1,547.9 L315.0,544.9 L316.9,541.9 L318.8,538.9 L320.7,535.9 L322.6,532.9 L324.5,529.9 L326.4,526.9 L328.3,524.0 L330.2,521.0 L332.1,518.0 L334.0,515.1 L335.9,512.2 L337.8,509.3 L339.7,506.5 L341.6,503.7 L343.5,500.9 L345.4,498.1 L347.3,495.4 L349.2,492.8 L351.1,490.2 L353.0,487.6 L354.9,485.1 L356.7,482.6 L358.6,480.2 L360.5,477.8 L362.4,475.5 L364.3,473.2 L366.2,471.0 L368.1,468.9 L370.0,466.8 L371.9,464.8 L373.8,462.8 L375.7,460.9 L377.6,459.1 L379.5,457.3 L381.4,455.5 L383.3,453.9 L385.2,452.3 L387.1,450.7 L389.0,449.2 L390.9,447.8 L392.8,446.5 L394.7,445.2 L396.6,443.9 L398.5,442.7 L400.4,441.6 L402.3,440.5 L404.2,439.5 L406.1,438.6 L408.0,437.7 L409.9,436.9 L411.8,436.1 L413.7,435.3 L415.6,434.7 L417.5,434.0 L419.4,433.5 L421.3,432.9 L423.2,432.4 L425.1,432.0 L427.0,431.6 L428.9,431.3 L430.8,431.0 L432.7,430.7 L434.6,430.5 L436.5,430.3 L438.4,430.2 L440.3,430.1 L442.2,430.1 L444.1,430.0 L446.0,430.0 L447.9,430.1 L449.8,430.2 L451.7,430.3 L453.6,430.4 L455.5,430.6 L457.4,430.8 L459.3,431.0 L461.2,431.2 L463.1,431.5 L465.0,431.8 L466.9,432.1 L468.8,432.4 L470.7,432.8 L472.6,433.2 L474.5,433.5 L476.4,433.9 L478.3,434.4 L480.2,434.8 L482.1,435.2 L484.0,435.7 L485.9,436.2 L487.8,436.6 L489.7,437.1 L491.6,437.6 L493.5,438.1 L495.4,438.6 L497.3,439.2 L499.2,439.7 L501.1,440.2 L503.0,440.7 L504.9,441.3 L506.8,441.8 L508.7,442.3 L510.6,442.9 L512.5,443.4 L514.4,443.9 L516.2,444.5 L518.1,445.0 L520.0,445.5 L521.9,446.0 L523.8,446.6 L525.7,447.1 L527.6,447.6 L529.5,448.1 L531.4,448.6 L533.3,449.1 L535.2,449.6 L537.1,450.1 L539.0,450.6 L540.9,451.0 L542.8,451.5 L544.7,452.0 L546.6,452.4 L548.5,452.8 L550.4,453.3 L552.3,453.7 L554.2,454.1 L556.1,454.5 L558.0,454.9 L559.9,455.3 L561.8,455.6 L563.7,456.0 L565.6,456.3 L567.5,456.7 L569.4,457.0 L571.3,457.3 L573.2,457.6 L575.1,457.9 L577.0,458.2 L578.9,458.5 L580.8,458.7 L582.7,459.0 L584.6,459.2 L586.5,459.4 L588.4,459.6 L590.3,459.8 L592.2,460.0 L594.1,460.2 L596.0,460.4 L597.9,460.5 L599.8,460.7 L601.7,460.8 L603.6,460.9 L605.5,461.0 L607.4,461.1 L609.3,461.2 L611.2,461.3 L613.1,461.3 L615.0,461.4 L616.9,461.4 L618.8,461.4 L620.7,461.4 L622.6,461.4 L624.5,461.4 L626.4,461.4 L628.3,461.4 L630.2,461.3 L632.1,461.3 L634.0,461.2 L635.9,461.1 L637.8,461.0 L639.7,460.9 L641.6,460.8 L643.5,460.7 L645.4,460.6 L647.3,460.4 L649.2,460.3 L651.1,460.1 L653.0,459.9 L654.9,459.8 L656.8,459.6 L658.7,459.4 L660.6,459.2 L662.5,458.9 L664.4,458.7 L666.3,458.5 L668.2,458.2 L670.1,458.0 L672.0,457.7 L673.9,457.4 L675.7,457.2 L677.6,456.9 L679.5,456.6 L681.4,456.3 L683.3,455.9 L685.2,455.6 L687.1,455.3 L689.0,455.0 L690.9,454.6 L692.8,454.3 L694.7,453.9 L696.6,453.5 L698.5,453.2 L700.4,452.8 L702.3,452.4 L704.2,452.0 L706.1,451.6 L708.0,451.2 L709.9,450.8 L711.8,450.3 L713.7,449.9 L715.6,449.5 L717.5,449.0 L719.4,448.6 L721.3,448.1 L723.2,447.7 L725.1,447.2 L727.0,446.7 L728.9,446.3 L730.8,445.8 L732.7,445.3 L734.6,444.8 L736.5,444.3 L738.4,443.8 L740.3,443.3 L742.2,442.8 L744.1,442.3 L746.0,441.7 L747.9,441.2 L749.8,440.7 L751.7,440.2 L753.6,439.6 L755.5,439.1 L755.5,659.5 L753.6,658.7 L751.7,657.9 L749.8,657.1 L747.9,656.3 L746.0,655.5 L744.1,654.7 L742.2,653.9 L740.3,653.1 L738.4,652.3 L736.5,651.4 L734.6,650.6 L732.7,649.8 L730.8,649.0 L728.9,648.2 L727.0,647.3 L725.1,646.5 L723.2,645.7 L721.3,644.8 L719.4,644.0 L717.5,643.2 L715.6,642.3 L713.7,641.5 L711.8,640.6 L709.9,639.7 L708.0,638.9 L706.1,638.0 L704.2,637.2 L702.3,636.3 L700.4,635.4 L698.5,634.5 L696.6,633.6 L694.7,632.8 L692.8,631.9 L690.9,631.0 L689.0,630.1 L687.1,629.2 L685.2,628.2 L683.3,627.3 L681.4,626.4 L679.5,625.5 L677.6,624.5 L675.7,623.6 L673.9,622.7 L672.0,621.7 L670.1,620.8 L668.2,619.8 L666.3,618.9 L664.4,617.9 L662.5,616.9 L660.6,615.9 L658.7,614.9 L656.8,613.9 L654.9,612.9 L653.0,611.9 L651.1,610.9 L649.2,609.9 L647.3,608.9 L645.4,607.9 L643.5,606.8 L641.6,605.8 L639.7,604.7 L637.8,603.7 L635.9,602.6 L634.0,601.5 L632.1,600.4 L630.2,599.3 L628.3,598.3 L626.4,597.1 L624.5,596.0 L622.6,594.9 L620.7,593.8 L618.8,592.7 L616.9,591.5 L615.0,590.4 L613.1,589.2 L611.2,588.0 L609.3,586.9 L607.4,585.7 L605.5,584.5 L603.6,583.3 L601.7,582.1 L599.8,580.9 L597.9,579.7 L596.0,578.4 L594.1,577.2 L592.2,576.0 L590.3,574.7 L588.4,573.4 L586.5,572.2 L584.6,570.9 L582.7,569.6 L580.8,568.3 L578.9,567.0 L577.0,565.7 L575.1,564.4 L573.2,563.1 L571.3,561.8 L569.4,560.4 L567.5,559.1 L565.6,557.7 L563.7,556.4 L561.8,555.0 L559.9,553.6 L558.0,552.3 L556.1,550.9 L554.2,549.5 L552.3,548.1 L550.4,546.7 L548.5,545.3 L546.6,543.9 L544.7,542.5 L542.8,541.1 L540.9,539.7 L539.0,538.2 L537.1,536.8 L535.2,535.4 L533.3,534.0 L531.4,532.5 L529.5,531.1 L527.6,529.7 L525.7,528.2 L523.8,526.8 L521.9,525.4 L520.0,523.9 L518.1,522.5 L516.2,521.1 L514.4,519.7 L512.5,518.2 L510.6,516.8 L508.7,515.4 L506.8,514.0 L504.9,512.6 L503.0,511.2 L501.1,509.8 L499.2,508.5 L497.3,507.1 L495.4,505.7 L493.5,504.4 L491.6,503.1 L489.7,501.7 L487.8,500.4 L485.9,499.1 L484.0,497.8 L482.1,496.6 L480.2,495.3 L478.3,494.1 L476.4,492.9 L474.5,491.7 L472.6,490.5 L470.7,489.4 L468.8,488.3 L466.9,487.2 L465.0,486.1 L463.1,485.1 L461.2,484.0 L459.3,483.0 L457.4,482.1 L455.5,481.2 L453.6,480.3 L451.7,479.4 L449.8,478.6 L447.9,477.8 L446.0,477.0 L444.1,476.3 L442.2,475.6 L440.3,475.0 L438.4,474.4 L436.5,473.9 L434.6,473.3 L432.7,472.9 L430.8,472.5 L428.9,472.1 L427.0,471.8 L425.1,471.5 L423.2,471.3 L421.3,471.2 L419.4,471.1 L417.5,471.0 L415.6,471.0 L413.7,471.1 L411.8,471.2 L409.9,471.4 L408.0,471.6 L406.1,471.9 L404.2,472.3 L402.3,472.7 L400.4,473.2 L398.5,473.7 L396.6,474.3 L394.7,475.0 L392.8,475.8 L390.9,476.6 L389.0,477.4 L387.1,478.4 L385.2,479.4 L383.3,480.5 L381.4,481.6 L379.5,482.8 L377.6,484.1 L375.7,485.4 L373.8,486.8 L371.9,488.3 L370.0,489.8 L368.1,491.5 L366.2,493.1 L364.3,494.8 L362.4,496.6 L360.5,498.5 L358.6,500.4 L356.7,502.4 L354.9,504.4 L353.0,506.5 L351.1,508.6 L349.2,510.8 L347.3,513.0 L345.4,515.3 L343.5,517.6 L341.6,520.0 L339.7,522.4 L337.8,524.9 L335.9,527.4 L334.0,529.9 L332.1,532.4 L330.2,535.0 L328.3,537.6 L326.4,540.2 L324.5,542.9 L322.6,545.5 L320.7,548.2 L318.8,550.9 L316.9,553.5 L315.0,556.2 L313.1,558.8 L311.2,561.5 L309.3,564.1 L307.4,566.8 L305.5,569.4 L303.6,571.9 L301.7,574.5 L299.8,577.0 L297.9,579.4 L296.0,581.9 L294.1,584.2 L292.2,586.6 L290.3,588.8 L288.4,591.1 L286.5,593.2 L284.6,595.3 L282.7,597.3 L280.8,599.2 L278.9,601.0 L277.0,602.8 L275.1,604.5 L273.2,606.1 L271.3,607.6 L269.4,608.9 L267.5,610.2 L265.6,611.4 L263.7,612.5 L261.8,613.5 L259.9,614.4 L258.0,615.1 L256.1,615.8 L254.2,616.3 L252.3,616.7 L250.4,617.0 L248.5,617.2 L246.6,617.3 L244.7,617.2 L242.8,617.0 L240.9,616.8 L239.0,616.4 L237.1,615.9 L235.2,615.3 L233.3,614.6 L231.4,613.8 L229.5,612.8 L227.6,611.8 L225.7,610.7 L223.8,609.5 L221.9,608.2 L220.0,606.9 L218.1,605.4 L216.2,603.9 L214.3,602.3 L212.4,600.7 L210.5,599.0 L208.6,597.2 L206.7,595.4 L204.8,593.6 L202.9,591.7 L201.0,589.9 L199.1,588.0 L197.2,586.1 L195.4,584.2 L193.5,582.2 L191.6,580.4 L189.7,578.5 L187.8,576.6 L185.9,574.8 L184.0,573.0 L182.1,571.3 L180.2,569.6 L178.3,568.0 L176.4,566.4 L174.5,564.9 L172.6,563.5 L170.7,562.1 L168.8,560.9 L166.9,559.7 L165.0,558.7 L163.1,557.7 L161.2,556.8 L159.3,556.1 L157.4,555.4 L155.5,554.9 L153.6,554.4 L151.7,554.1 L149.8,553.9 L147.9,553.9Z" fill="#b0c3f1"/>
<path d="M168.9,553.83 H755.5" stroke="#000" stroke-width="1.5" stroke-dasharray="2.2 4.0" fill="none"/>
<path d="M147.9,553.8 L149.8,553.9 L151.7,554.1 L153.6,554.4 L155.5,554.9 L157.4,555.4 L159.3,556.0 L161.2,556.8 L163.1,557.7 L165.0,558.6 L166.9,559.7 L168.8,560.9 L170.7,562.1 L172.6,563.4 L174.5,564.8 L176.4,566.3 L178.3,567.9 L180.2,569.5 L182.1,571.2 L184.0,572.9 L185.9,574.7 L187.8,576.5 L189.7,578.3 L191.6,580.2 L193.5,582.0 L195.4,583.9 L197.2,585.8 L199.1,587.7 L201.0,589.6 L202.9,591.4 L204.8,593.3 L206.7,595.1 L208.6,596.8 L210.5,598.5 L212.4,600.2 L214.3,601.8 L216.2,603.3 L218.1,604.8 L220.0,606.2 L221.9,607.5 L223.8,608.8 L225.7,609.9 L227.6,611.0 L229.5,612.0 L231.4,612.8 L233.3,613.6 L235.2,614.2 L237.1,614.8 L239.0,615.2 L240.9,615.5 L242.8,615.7 L244.7,615.8 L246.6,615.8 L248.5,615.7 L250.4,615.4 L252.3,615.0 L254.2,614.5 L256.1,613.9 L258.0,613.2 L259.9,612.4 L261.8,611.4 L263.7,610.3 L265.6,609.1 L267.5,607.9 L269.4,606.5 L271.3,605.0 L273.2,603.4 L275.1,601.7 L277.0,599.9 L278.9,598.0 L280.8,596.1 L282.7,594.0 L284.6,591.9 L286.5,589.7 L288.4,587.4 L290.3,585.1 L292.2,582.7 L294.1,580.3 L296.0,577.7 L297.9,575.2 L299.8,572.6 L301.7,569.9 L303.6,567.2 L305.5,564.5 L307.4,561.8 L309.3,559.0 L311.2,556.2 L313.1,553.4 L315.0,550.6 L316.9,547.7 L318.8,544.9 L320.7,542.1 L322.6,539.2 L324.5,536.4 L326.4,533.6 L328.3,530.8 L330.2,528.0 L332.1,525.2 L334.0,522.5 L335.9,519.8 L337.8,517.1 L339.7,514.5 L341.6,511.8 L343.5,509.3 L345.4,506.7 L347.3,504.2 L349.2,501.8 L351.1,499.4 L353.0,497.0 L354.9,494.7 L356.7,492.5 L358.6,490.3 L360.5,488.2 L362.4,486.1 L364.3,484.0 L366.2,482.1 L368.1,480.2 L370.0,478.3 L371.9,476.5 L373.8,474.8 L375.7,473.2 L377.6,471.6 L379.5,470.0 L381.4,468.6 L383.3,467.2 L385.2,465.8 L387.1,464.6 L389.0,463.3 L390.9,462.2 L392.8,461.1 L394.7,460.1 L396.6,459.1 L398.5,458.2 L400.4,457.4 L402.3,456.6 L404.2,455.9 L406.1,455.2 L408.0,454.6 L409.9,454.1 L411.8,453.6 L413.7,453.2 L415.6,452.8 L417.5,452.5 L419.4,452.3 L421.3,452.0 L423.2,451.9 L425.1,451.8 L427.0,451.7 L428.9,451.7 L430.8,451.7 L432.7,451.8 L434.6,451.9 L436.5,452.1 L438.4,452.3 L440.3,452.6 L442.2,452.8 L444.1,453.2 L446.0,453.5 L447.9,453.9 L449.8,454.4 L451.7,454.8 L453.6,455.3 L455.5,455.9 L457.4,456.4 L459.3,457.0 L461.2,457.6 L463.1,458.3 L465.0,458.9 L466.9,459.6 L468.8,460.4 L470.7,461.1 L472.6,461.8 L474.5,462.6 L476.4,463.4 L478.3,464.2 L480.2,465.1 L482.1,465.9 L484.0,466.8 L485.9,467.6 L487.8,468.5 L489.7,469.4 L491.6,470.3 L493.5,471.3 L495.4,472.2 L497.3,473.1 L499.2,474.1 L501.1,475.0 L503.0,476.0 L504.9,476.9 L506.8,477.9 L508.7,478.9 L510.6,479.8 L512.5,480.8 L514.4,481.8 L516.2,482.8 L518.1,483.8 L520.0,484.7 L521.9,485.7 L523.8,486.7 L525.7,487.7 L527.6,488.6 L529.5,489.6 L531.4,490.6 L533.3,491.5 L535.2,492.5 L537.1,493.5 L539.0,494.4 L540.9,495.4 L542.8,496.3 L544.7,497.2 L546.6,498.2 L548.5,499.1 L550.4,500.0 L552.3,500.9 L554.2,501.8 L556.1,502.7 L558.0,503.6 L559.9,504.5 L561.8,505.3 L563.7,506.2 L565.6,507.0 L567.5,507.9 L569.4,508.7 L571.3,509.5 L573.2,510.4 L575.1,511.2 L577.0,512.0 L578.9,512.8 L580.8,513.5 L582.7,514.3 L584.6,515.1 L586.5,515.8 L588.4,516.5 L590.3,517.3 L592.2,518.0 L594.1,518.7 L596.0,519.4 L597.9,520.1 L599.8,520.8 L601.7,521.4 L603.6,522.1 L605.5,522.8 L607.4,523.4 L609.3,524.0 L611.2,524.7 L613.1,525.3 L615.0,525.9 L616.9,526.5 L618.8,527.0 L620.7,527.6 L622.6,528.2 L624.5,528.7 L626.4,529.3 L628.3,529.8 L630.2,530.3 L632.1,530.8 L634.0,531.4 L635.9,531.8 L637.8,532.3 L639.7,532.8 L641.6,533.3 L643.5,533.8 L645.4,534.2 L647.3,534.7 L649.2,535.1 L651.1,535.5 L653.0,535.9 L654.9,536.4 L656.8,536.8 L658.7,537.2 L660.6,537.5 L662.5,537.9 L664.4,538.3 L666.3,538.7 L668.2,539.0 L670.1,539.4 L672.0,539.7 L673.9,540.1 L675.7,540.4 L677.6,540.7 L679.5,541.0 L681.4,541.3 L683.3,541.6 L685.2,541.9 L687.1,542.2 L689.0,542.5 L690.9,542.8 L692.8,543.1 L694.7,543.3 L696.6,543.6 L698.5,543.8 L700.4,544.1 L702.3,544.3 L704.2,544.6 L706.1,544.8 L708.0,545.0 L709.9,545.3 L711.8,545.5 L713.7,545.7 L715.6,545.9 L717.5,546.1 L719.4,546.3 L721.3,546.5 L723.2,546.7 L725.1,546.9 L727.0,547.0 L728.9,547.2 L730.8,547.4 L732.7,547.6 L734.6,547.7 L736.5,547.9 L738.4,548.0 L740.3,548.2 L742.2,548.3 L744.1,548.5 L746.0,548.6 L747.9,548.8 L749.8,548.9 L751.7,549.0 L753.6,549.2 L755.5,549.3" stroke="#000" stroke-width="1.5" fill="none"/>
</g>
<rect x="511.9" y="261.7" width="221.1" height="35.7" fill="#fff"/>
<rect x="511.9" y="586.2" width="221.1" height="32.3" fill="#fff"/>
<rect x="185.7" y="379.3" width="47.8" height="19.3" fill="#8887bd"/>
<rect x="185.7" y="418.2" width="47.8" height="19.6" fill="#b0c3f1"/>
<path d="M185.7,469.7 H233.2" stroke="#000" stroke-width="1.5"/>
<path d="M185.50,43.2 v8.5 M185.50,334.4 v-8.5 M223.50,43.2 v8.5 M223.50,334.4 v-8.5 M261.50,43.2 v8.5 M261.50,334.4 v-8.5 M299.50,43.2 v17 M299.50,334.4 v-17 M337.50,43.2 v8.5 M337.50,334.4 v-8.5 M375.50,43.2 v8.5 M375.50,334.4 v-8.5 M413.50,43.2 v8.5 M413.50,334.4 v-8.5 M451.50,43.2 v17 M451.50,334.4 v-17 M489.50,43.2 v8.5 M489.50,334.4 v-8.5 M527.50,43.2 v8.5 M527.50,334.4 v-8.5 M565.50,43.2 v8.5 M565.50,334.4 v-8.5 M603.50,43.2 v17 M603.50,334.4 v-17 M641.50,43.2 v8.5 M641.50,334.4 v-8.5 M679.50,43.2 v8.5 M679.50,334.4 v-8.5 M717.50,43.2 v8.5 M717.50,334.4 v-8.5 M147.5,316.20 h8.5 M755.5,316.20 h-8.5 M147.5,298.00 h8.5 M755.5,298.00 h-8.5 M147.5,279.80 h8.5 M755.5,279.80 h-8.5 M147.5,261.60 h8.5 M755.5,261.60 h-8.5 M147.5,243.40 h8.5 M755.5,243.40 h-8.5 M147.5,225.20 h8.5 M755.5,225.20 h-8.5 M147.5,207.00 h8.5 M755.5,207.00 h-8.5 M147.5,188.80 h8.5 M755.5,188.80 h-8.5 M147.5,170.60 h8.5 M755.5,170.60 h-8.5 M147.5,152.40 h8.5 M755.5,152.40 h-8.5 M147.5,134.20 h8.5 M755.5,134.20 h-8.5 M147.5,116.00 h8.5 M755.5,116.00 h-8.5 M147.5,97.80 h8.5 M755.5,97.80 h-8.5 M147.5,79.60 h8.5 M755.5,79.60 h-8.5 M147.5,61.40 h8.5 M755.5,61.40 h-8.5 M147.5,134.20 h17 M755.5,134.20 h-17 M147.5,225.20 h17 M755.5,225.20 h-17 M147.5,316.20 h17 M755.5,316.20 h-17" stroke="#000" stroke-width="2.2" fill="none"/>
<path d="M185.50,359.9 v8.5 M185.50,650.8 v-8.5 M223.50,359.9 v8.5 M223.50,650.8 v-8.5 M261.50,359.9 v8.5 M261.50,650.8 v-8.5 M299.50,359.9 v17 M299.50,650.8 v-17 M337.50,359.9 v8.5 M337.50,650.8 v-8.5 M375.50,359.9 v8.5 M375.50,650.8 v-8.5 M413.50,359.9 v8.5 M413.50,650.8 v-8.5 M451.50,359.9 v17 M451.50,650.8 v-17 M489.50,359.9 v8.5 M489.50,650.8 v-8.5 M527.50,359.9 v8.5 M527.50,650.8 v-8.5 M565.50,359.9 v8.5 M565.50,650.8 v-8.5 M603.50,359.9 v17 M603.50,650.8 v-17 M641.50,359.9 v8.5 M641.50,650.8 v-8.5 M679.50,359.9 v8.5 M679.50,650.8 v-8.5 M717.50,359.9 v8.5 M717.50,650.8 v-8.5 M147.5,634.64 h8.5 M755.5,634.64 h-8.5 M147.5,618.48 h8.5 M755.5,618.48 h-8.5 M147.5,602.32 h8.5 M755.5,602.32 h-8.5 M147.5,586.16 h8.5 M755.5,586.16 h-8.5 M147.5,569.99 h8.5 M755.5,569.99 h-8.5 M147.5,553.83 h8.5 M755.5,553.83 h-8.5 M147.5,537.67 h8.5 M755.5,537.67 h-8.5 M147.5,521.51 h8.5 M755.5,521.51 h-8.5 M147.5,505.35 h8.5 M755.5,505.35 h-8.5 M147.5,489.19 h8.5 M755.5,489.19 h-8.5 M147.5,473.03 h8.5 M755.5,473.03 h-8.5 M147.5,456.87 h8.5 M755.5,456.87 h-8.5 M147.5,440.71 h8.5 M755.5,440.71 h-8.5 M147.5,424.54 h8.5 M755.5,424.54 h-8.5 M147.5,408.38 h8.5 M755.5,408.38 h-8.5 M147.5,392.22 h8.5 M755.5,392.22 h-8.5 M147.5,376.06 h8.5 M755.5,376.06 h-8.5 M147.5,424.54 h17 M755.5,424.54 h-17 M147.5,489.19 h17 M755.5,489.19 h-17 M147.5,553.83 h17 M755.5,553.83 h-17 M147.5,618.48 h17 M755.5,618.48 h-17" stroke="#000" stroke-width="2.2" fill="none"/>
<rect x="147.5" y="43.2" width="608.0" height="291.2" fill="none" stroke="#000" stroke-width="2.3"/>
<rect x="147.5" y="359.9" width="608.0" height="290.9" fill="none" stroke="#000" stroke-width="2.3"/>
<path d="M696.1,292.2 L712.1,266.8" stroke="#000" stroke-width="1.7" fill="none"/>
<circle cx="687.6" cy="288.5" r="5.4" fill="none" stroke="#000" stroke-width="1.4"/><circle cx="687.6" cy="288.5" r="1.4" fill="#000"/>
<path d="M681.7,614.8 L697.7,589.4" stroke="#000" stroke-width="1.7" fill="none"/>
<circle cx="673.2" cy="611.1" r="5.4" fill="none" stroke="#000" stroke-width="1.4"/><circle cx="673.2" cy="611.1" r="1.4" fill="#000"/>
<text transform="matrix(1.1606,0,0,1.0222,92.74,52.54)" font-family="Liberation Sans, sans-serif" font-size="25.3" xml:space="preserve">0.</text>
<text transform="matrix(0.6385,0,0,1.0254,120.02,52.60)" font-family="Liberation Mono, monospace" font-size="27" xml:space="preserve">1</text>
<text transform="matrix(1.1598,0,0,1.0111,76.34,143.85)" font-family="Liberation Sans, sans-serif" font-size="25.3" xml:space="preserve">0.05</text>
<text transform="matrix(1.2000,0,0,1.0167,116.70,234.25)" font-family="Liberation Sans, sans-serif" font-size="25.3" xml:space="preserve">0</text>
<text transform="matrix(1.1951,0,0,1.0111,57.01,325.55)" font-family="Liberation Sans, sans-serif" font-size="25.3" xml:space="preserve">−0.05</text>
<text transform="matrix(1.1636,0,0,1.0056,92.64,369.15)" font-family="Liberation Sans, sans-serif" font-size="25.3" xml:space="preserve">0.6</text>
<text transform="matrix(1.1463,0,0,1.0000,92.65,434.05)" font-family="Liberation Sans, sans-serif" font-size="25.3" xml:space="preserve">0.4</text>
<text transform="matrix(1.1848,0,0,1.0000,92.62,498.75)" font-family="Liberation Sans, sans-serif" font-size="25.3" xml:space="preserve">0.2</text>
<text transform="matrix(1.2000,0,0,1.0056,116.70,563.45)" font-family="Liberation Sans, sans-serif" font-size="25.3" xml:space="preserve">0</text>
<text transform="matrix(1.2274,0,0,1.0222,73.07,628.54)" font-family="Liberation Sans, sans-serif" font-size="25.3" xml:space="preserve">−0.2</text>
<text transform="matrix(1.1667,0,0,0.9944,139.43,683.25)" font-family="Liberation Sans, sans-serif" font-size="25.3" xml:space="preserve">0</text>
<text transform="matrix(1.1550,0,0,0.9944,274.76,683.25)" font-family="Liberation Sans, sans-serif" font-size="25.3" xml:space="preserve">200</text>
<text transform="matrix(1.1067,0,0,0.9944,428.15,683.25)" font-family="Liberation Sans, sans-serif" font-size="25.3" xml:space="preserve">400</text>
<text transform="matrix(1.1325,0,0,0.9944,579.18,683.25)" font-family="Liberation Sans, sans-serif" font-size="25.3" xml:space="preserve">600</text>
<text transform="matrix(1.1230,0,0,0.9944,731.28,683.25)" font-family="Liberation Sans, sans-serif" font-size="25.3" xml:space="preserve">800</text>
<text transform="matrix(1.1660,0,0,1.0000,388.21,724.10)" font-family="Liberation Serif, serif" font-size="27" font-style="italic" stroke="#000" stroke-width="0.25" xml:space="preserve">ν</text>
<text transform="matrix(1.2667,0,0,1.1956,415.07,725.92)" font-family="Liberation Serif, serif" font-size="27" xml:space="preserve">[</text>
<text transform="matrix(1.0051,0,0,0.9808,440.19,724.85)" font-family="Liberation Serif, serif" font-size="27" xml:space="preserve">GHz</text>
<text transform="matrix(1.2500,0,0,1.1956,505.25,725.92)" font-family="Liberation Serif, serif" font-size="27" xml:space="preserve">]</text>
<text transform="matrix(0.9965,0,0,1.0061,238.90,398.30)" font-family="Liberation Serif, serif" font-size="25" xml:space="preserve">Δ</text>
<text transform="matrix(1.3238,0,0,1.0269,253.88,398.34)" font-family="Liberation Serif, serif" font-size="25" xml:space="preserve">S</text>
<text transform="matrix(1.1175,0,0,0.9684,270.36,390.66)" font-family="Liberation Serif, serif" font-size="14" font-weight="bold" xml:space="preserve">SZ</text>
<text transform="matrix(1.0621,0,0,0.8875,272.20,405.26)" font-family="Liberation Serif, serif" font-size="16" font-style="italic" stroke="#000" stroke-width="0.5" xml:space="preserve">ν</text>
<text transform="matrix(1.0694,0,0,1.0207,291.60,397.94)" font-family="Liberation Serif, serif" font-size="25" stroke="#000" stroke-width="0.4" xml:space="preserve">±</text>
<text transform="matrix(1.1843,0,0,0.8364,309.51,398.39)" font-family="Liberation Serif, serif" font-size="26" font-style="italic" xml:space="preserve">σ</text>
<text transform="matrix(1.0894,0,0,0.8762,326.38,390.68)" font-family="Liberation Mono, monospace" font-size="14" font-weight="bold" xml:space="preserve">obs</text>
<text transform="matrix(0.9833,0,0,0.9283,325.66,406.42)" font-family="Liberation Mono, monospace" font-size="14" font-weight="bold" xml:space="preserve">gal</text>
<text transform="matrix(0.9965,0,0,1.0061,238.90,435.10)" font-family="Liberation Serif, serif" font-size="25" xml:space="preserve">Δ</text>
<text transform="matrix(1.3238,0,0,1.0269,253.88,435.14)" font-family="Liberation Serif, serif" font-size="25" xml:space="preserve">S</text>
<text transform="matrix(1.1175,0,0,0.9684,270.36,427.46)" font-family="Liberation Serif, serif" font-size="14" font-weight="bold" xml:space="preserve">SZ</text>
<text transform="matrix(1.0621,0,0,0.8875,272.20,442.06)" font-family="Liberation Serif, serif" font-size="16" font-style="italic" stroke="#000" stroke-width="0.5" xml:space="preserve">ν</text>
<text transform="matrix(1.0694,0,0,1.0207,291.60,434.74)" font-family="Liberation Serif, serif" font-size="25" stroke="#000" stroke-width="0.4" xml:space="preserve">±</text>
<text transform="matrix(1.1843,0,0,0.8364,309.51,435.19)" font-family="Liberation Serif, serif" font-size="26" font-style="italic" xml:space="preserve">σ</text>
<text transform="matrix(0.9833,0,0,0.9283,325.66,442.32)" font-family="Liberation Mono, monospace" font-size="14" font-weight="bold" xml:space="preserve">gal</text>
<text transform="matrix(0.9965,0,0,1.0061,238.90,478.70)" font-family="Liberation Serif, serif" font-size="25" xml:space="preserve">Δ</text>
<text transform="matrix(1.3238,0,0,1.0269,253.88,478.74)" font-family="Liberation Serif, serif" font-size="25" xml:space="preserve">S</text>
<text transform="matrix(1.1175,0,0,0.9684,270.36,471.06)" font-family="Liberation Serif, serif" font-size="14" font-weight="bold" xml:space="preserve">SZ</text>
<text transform="matrix(1.0621,0,0,0.8875,272.20,485.66)" font-family="Liberation Serif, serif" font-size="16" font-style="italic" stroke="#000" stroke-width="0.5" xml:space="preserve">ν</text>
<text transform="matrix(1.1906,0,0,0.9627,565.50,418.56)" font-family="Liberation Serif, serif" font-size="21" xml:space="preserve">lensed</text>
<text transform="matrix(1.1907,0,0,0.9857,638.70,418.55)" font-family="Liberation Serif, serif" font-size="21" xml:space="preserve">noise</text>
<text transform="matrix(1.1865,0,0,0.9627,565.80,476.56)" font-family="Liberation Serif, serif" font-size="21" xml:space="preserve">unlensed</text>
<text transform="matrix(1.1744,0,0,0.9857,664.91,476.55)" font-family="Liberation Serif, serif" font-size="21" xml:space="preserve">noise</text>
<text transform="matrix(0.8372,0,0,1.0059,520.07,286.60)" font-family="Liberation Serif, serif" font-size="26" xml:space="preserve">M</text>
<text transform="matrix(0.9042,0,0,0.9023,539.37,294.07)" font-family="Liberation Mono, monospace" font-size="14" stroke="#000" stroke-width="0.45" xml:space="preserve">vir</text>
<text transform="matrix(1.1837,0,0,0.9630,563.72,287.06)" font-family="Liberation Serif, serif" font-size="26" xml:space="preserve">=</text>
<text transform="matrix(0.6231,0,0,0.9915,585.65,286.60)" font-family="Liberation Mono, monospace" font-size="27" xml:space="preserve">1</text>
<text transform="matrix(1.1750,0,0,1.0056,597.53,286.65)" font-family="Liberation Sans, sans-serif" font-size="25.3" xml:space="preserve">0</text>
<text transform="matrix(0.9984,0,0,1.0000,615.05,278.00)" font-family="Liberation Mono, monospace" font-size="14" stroke="#000" stroke-width="0.45" xml:space="preserve">14.6</text>
<text transform="matrix(0.8419,0,0,1.0059,661.87,286.60)" font-family="Liberation Serif, serif" font-size="26" xml:space="preserve">M</text>
<text transform="matrix(1.1120,0,0,1.0000,714.62,286.60)" font-family="Liberation Serif, serif" font-size="26" xml:space="preserve">h</text>
<text transform="matrix(0.8372,0,0,1.0059,520.07,609.20)" font-family="Liberation Serif, serif" font-size="26" xml:space="preserve">M</text>
<text transform="matrix(0.9042,0,0,0.9023,539.37,616.67)" font-family="Liberation Mono, monospace" font-size="14" stroke="#000" stroke-width="0.45" xml:space="preserve">vir</text>
<text transform="matrix(1.1837,0,0,0.9630,563.72,609.66)" font-family="Liberation Serif, serif" font-size="26" xml:space="preserve">=</text>
<text transform="matrix(0.6231,0,0,0.9915,585.65,609.20)" font-family="Liberation Mono, monospace" font-size="27" xml:space="preserve">1</text>
<text transform="matrix(1.1750,0,0,1.0056,597.53,609.25)" font-family="Liberation Sans, sans-serif" font-size="25.3" xml:space="preserve">0</text>
<text transform="matrix(1.1279,0,0,1.0000,614.95,600.60)" font-family="Liberation Mono, monospace" font-size="14" stroke="#000" stroke-width="0.45" xml:space="preserve">15</text>
<text transform="matrix(0.8419,0,0,1.0059,647.47,609.20)" font-family="Liberation Serif, serif" font-size="26" xml:space="preserve">M</text>
<text transform="matrix(1.1120,0,0,1.0000,700.22,609.20)" font-family="Liberation Serif, serif" font-size="26" xml:space="preserve">h</text>
<g transform="translate(41.3,416) rotate(-90)">
<text transform="matrix(1.0596,0,0,1.0242,-0.86,-0.30)" font-family="Liberation Serif, serif" font-size="25" xml:space="preserve">Δ</text>
<text transform="matrix(1.4381,0,0,1.0806,13.68,0.03)" font-family="Liberation Serif, serif" font-size="25" xml:space="preserve">S</text>
<text transform="matrix(1.0349,0,0,1.0526,32.42,-8.06)" font-family="Liberation Serif, serif" font-size="14" font-weight="bold" xml:space="preserve">SZ</text>
<text transform="matrix(0.8966,0,0,0.9500,33.20,6.83)" font-family="Liberation Serif, serif" font-size="16" font-style="italic" stroke="#000" stroke-width="0.5" xml:space="preserve">ν</text>
<text transform="matrix(1.0000,0,0,1.2356,64.10,1.67)" font-family="Liberation Serif, serif" font-size="27" xml:space="preserve">[</text>
<text transform="matrix(1.1956,0,0,1.0198,87.50,-0.46)" font-family="Liberation Serif, serif" font-size="26" xml:space="preserve">Jy</text>
<text transform="matrix(1.0000,0,0,1.2356,129.60,1.67)" font-family="Liberation Serif, serif" font-size="27" xml:space="preserve">]</text>
</g>
</svg>
</body></html>
